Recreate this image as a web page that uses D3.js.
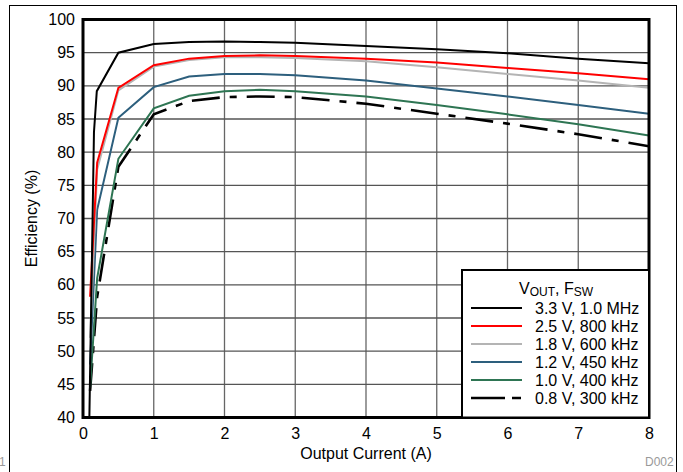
<!DOCTYPE html>
<html>
<head>
<meta charset="utf-8">
<script src="https://cdn.jsdelivr.net/npm/d3@7"></script>
<style>
  body { margin: 0; background: #fff; }
  svg { font-family: "Liberation Sans", Arial, sans-serif; }
</style>
</head>
<body>
<div id="chart"></div>
<script>
// Output current (A)
var current = [0.1, 0.2, 0.5, 1, 1.5, 2, 2.5, 3, 4, 5, 6, 7, 8];
var blackCurrent = [0.09, 0.155, 0.195, 0.5, 1, 1.5, 2, 2.5, 3, 4, 5, 6, 7, 8];
var dashCurrent = [0.1, 0.2, 0.5, 1, 1.5, 2, 2.5, 3, 4, 5, 6, 7, 8];

// Efficiency (%)
var eff33 = [40, 83, 89.2, 95, 96.3, 96.6, 96.7, 96.6, 96.5, 96.0, 95.5, 94.9, 94.1, 93.4];
var eff25 = [58.2, 78.4, 89.7, 93.1, 94.1, 94.5, 94.6, 94.5, 94.1, 93.5, 92.7, 91.9, 91.0];
var eff18 = [52, 77.4, 89.3, 92.9, 93.9, 94.3, 94.3, 94.2, 93.7, 92.8, 91.8, 90.8, 89.7];
var eff12 = [48, 71.3, 85.2, 89.8, 91.4, 91.8, 91.8, 91.6, 90.8, 89.6, 88.4, 87.1, 85.8];
var eff10 = [44.5, 61, 79, 86.6, 88.5, 89.2, 89.4, 89.2, 88.4, 87.1, 85.7, 84.2, 82.5];
var eff08 = [44, 58.2, 77.8, 85.7, 87.7, 88.3, 88.4, 88.3, 87.3, 85.8, 84.3, 82.7, 80.9];

var xTicks = [0, 1, 2, 3, 4, 5, 6, 7, 8];
var yTicks = [40, 45, 50, 55, 60, 65, 70, 75, 80, 85, 90, 95, 100];
var legendLabels = ["3.3 V, 1.0 MHz", "2.5 V, 800 kHz", "1.8 V, 600 kHz",
                    "1.2 V, 450 kHz", "1.0 V, 400 kHz", "0.8 V, 300 kHz"];

(function () {
  var series = [
    { x: blackCurrent, y: eff33, color: "#000000", dash: null },
    { x: current, y: eff25, color: "#ff0000", dash: null },
    { x: current, y: eff18, color: "#b4b4b4", dash: null },
    { x: current, y: eff12, color: "#2d5f7d", dash: null },
    { x: current, y: eff10, color: "#2e7553", dash: null },
    { x: dashCurrent, y: eff08, color: "#000000", dash: "28,10,7,10" }
  ];
  // back to front
  var drawOrder = [5, 4, 3, 2, 1, 0];

  var W = 683, H = 472;
  var pL = 83, pR = 649, pT = 19.5, pB = 417.5;
  var fs = 16;

  var svg = d3.select("#chart").append("svg")
    .attr("width", W).attr("height", H);

  // outer frame
  svg.append("rect")
    .attr("x", 9.5).attr("y", 5.5)
    .attr("width", 667).attr("height", 480)
    .attr("fill", "none").attr("stroke", "#000").attr("stroke-width", 1);

  var x = d3.scaleLinear().domain([0, 8]).range([pL, pR]);
  var y = d3.scaleLinear().domain([40, 100]).range([pB, pT]);

  // grid
  svg.append("g").selectAll("line").data(xTicks).enter().append("line")
    .attr("x1", function (d) { return x(d); })
    .attr("x2", function (d) { return x(d); })
    .attr("y1", pT).attr("y2", pB)
    .attr("stroke", "#666").attr("stroke-width", 1.3);

  svg.append("g").selectAll("line").data(yTicks).enter().append("line")
    .attr("x1", pL).attr("x2", pR)
    .attr("y1", function (d) { return y(d); })
    .attr("y2", function (d) { return y(d); })
    .attr("stroke", "#555").attr("stroke-width", 1.3);

  svg.append("clipPath").attr("id", "plotclip").append("rect")
    .attr("x", pL).attr("y", pT)
    .attr("width", pR - pL).attr("height", pB - pT);

  var line = d3.line()
    .x(function (d) { return x(d[0]); })
    .y(function (d) { return y(d[1]); });

  var curves = svg.append("g").attr("clip-path", "url(#plotclip)");
  drawOrder.forEach(function (i) {
    var s = series[i];
    var pts = s.x.map(function (v, j) { return [v, s.y[j]]; });
    curves.append("path")
      .attr("d", line(pts))
      .attr("fill", "none")
      .attr("stroke", s.color)
      .attr("stroke-width", s.dash ? 2.6 : 2)
      .attr("stroke-dasharray", s.dash);
  });

  // axes
  var xAxis = d3.axisBottom(x).tickValues(xTicks).tickSize(0).tickPadding(10)
    .tickFormat(d3.format("d"));
  var gx = svg.append("g").attr("transform", "translate(0," + pB + ")").call(xAxis);
  gx.select(".domain").remove();
  gx.selectAll("text").attr("font-size", fs).attr("fill", "#000")
    .attr("font-family", "Liberation Sans, Arial, sans-serif");

  var yAxis = d3.axisLeft(y).tickValues(yTicks).tickSize(0).tickPadding(8)
    .tickFormat(d3.format("d"));
  var gy = svg.append("g").attr("transform", "translate(" + pL + ",0)").call(yAxis);
  gy.select(".domain").remove();
  gy.selectAll("text").attr("font-size", fs).attr("fill", "#000")
    .attr("font-family", "Liberation Sans, Arial, sans-serif");

  // plot border
  svg.append("rect")
    .attr("x", pL).attr("y", pT)
    .attr("width", pR - pL).attr("height", pB - pT)
    .attr("fill", "none").attr("stroke", "#000").attr("stroke-width", 3);

  // axis titles
  svg.append("text")
    .attr("x", (pL + pR) / 2).attr("y", 459)
    .attr("text-anchor", "middle").attr("font-size", fs)
    .text("Output Current (A)");

  svg.append("text")
    .attr("transform", "translate(37," + ((pT + pB) / 2) + ") rotate(-90)")
    .attr("text-anchor", "middle").attr("font-size", fs)
    .text("Efficiency (%)");

  // legend
  var lg = svg.append("g");
  lg.append("rect")
    .attr("x", 462).attr("y", 270)
    .attr("width", pR - 462).attr("height", pB - 270)
    .attr("fill", "#fff").attr("stroke", "#000").attr("stroke-width", 2);

  var title = lg.append("text")
    .attr("x", 556).attr("y", 294)
    .attr("text-anchor", "middle").attr("font-size", fs);
  title.append("tspan").text("V");
  title.append("tspan").attr("font-size", 12).attr("dy", 2).text("OUT");
  title.append("tspan").attr("dy", -2).text(", F");
  title.append("tspan").attr("font-size", 12).attr("dy", 2).text("SW");

  legendLabels.forEach(function (lab, i) {
    var s = series[i];
    var yy = 314 + i * 18;
    lg.append("line")
      .attr("x1", 471).attr("x2", 522)
      .attr("y1", yy - 6).attr("y2", yy - 6)
      .attr("stroke", s.color)
      .attr("stroke-width", s.dash ? 2.6 : 2)
      .attr("stroke-dasharray", s.dash ? "34,7,9,20" : null);
    lg.append("text")
      .attr("x", 535).attr("y", yy)
      .attr("font-size", fs)
      .text(lab);
  });

  // small notes
  svg.append("text").attr("x", 645).attr("y", 466)
    .attr("font-size", 12).attr("fill", "#999").text("D002");
  svg.append("text").attr("x", -1).attr("y", 466)
    .attr("font-size", 12).attr("fill", "#999").text("1");
})();
</script>
</body>
</html>
